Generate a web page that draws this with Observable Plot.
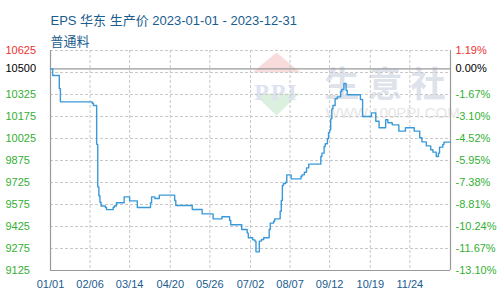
<!DOCTYPE html>
<html>
<head>
<meta charset="utf-8">
<script src="https://cdn.jsdelivr.net/npm/d3@7"></script>
<script src="https://cdn.jsdelivr.net/npm/@observablehq/plot@0.6"></script>
<style>
  html, body { margin: 0; padding: 0; background: #fff; }
</style>
</head>
<body>
<div id="chart"></div>
<script>
const titleText = "EPS 华东 生产价 2023-01-01 - 2023-12-31";
const subtitleText = "普通料";

const dates = [
  "2023-01-01","2023-01-03","2023-01-09","2023-01-10","2023-02-08","2023-02-09",
  "2023-02-12","2023-02-13","2023-02-14","2023-02-15","2023-02-16","2023-02-20",
  "2023-02-21","2023-02-27","2023-02-28","2023-03-02","2023-03-09","2023-03-14",
  "2023-03-21","2023-04-02","2023-04-03","2023-04-06","2023-04-10","2023-04-24",
  "2023-04-25","2023-05-10","2023-05-19","2023-05-29","2023-06-06","2023-06-13",
  "2023-06-14","2023-06-24","2023-06-29","2023-06-30","2023-07-04","2023-07-06",
  "2023-07-07","2023-07-10","2023-07-12","2023-07-14","2023-07-19","2023-07-20",
  "2023-07-23","2023-07-24","2023-07-29","2023-07-30","2023-07-31","2023-08-01",
  "2023-08-03","2023-08-04","2023-08-08","2023-08-17","2023-08-18","2023-08-20",
  "2023-08-22","2023-08-24","2023-09-04","2023-09-05","2023-09-07","2023-09-08",
  "2023-09-10","2023-09-11","2023-09-12","2023-09-13","2023-09-14","2023-09-15",
  "2023-09-17","2023-09-19","2023-09-22","2023-09-23","2023-09-25","2023-09-27",
  "2023-09-28","2023-10-10","2023-10-12","2023-10-20","2023-10-24","2023-10-27",
  "2023-11-02","2023-11-04","2023-11-08","2023-11-14","2023-11-20","2023-11-28",
  "2023-12-03","2023-12-05","2023-12-09","2023-12-13","2023-12-15","2023-12-18",
  "2023-12-20","2023-12-21","2023-12-24","2023-12-25","2023-12-31"
];
const prices = [
  10500,10455,10365,10275,10265,10250,
  9985,9695,9635,9590,9565,9555,
  9540,9555,9565,9587,9627,9600,
  9555,9587,9627,9616,9639,9602,
  9568,9541,9511,9477,9491,9466,
  9437,9405,9380,9348,9334,9325,
  9252,9325,9336,9348,9405,9448,
  9461,9477,9529,9602,9705,9718,
  9727,9777,9750,9768,9777,9795,
  9825,9850,9902,9925,9970,9989,
  10023,10064,10084,10159,10227,10250,
  10296,10309,10345,10359,10400,10352,
  10323,10291,10175,10200,10143,10098,
  10153,10132,10118,10075,10098,10075,
  10030,10002,9975,9948,9932,9902,
  9925,9966,9984,10000,10000
];

const xDomain = ["2023-01-01", "2023-12-31"];
const xTickDates = ["2023-01-01","2023-02-06","2023-03-14","2023-04-20","2023-05-26",
                    "2023-07-02","2023-08-07","2023-09-12","2023-10-19","2023-11-24"];
const xTickLabels = ["01/01","02/06","03/14","04/20","05/26","07/02","08/07","09/12","10/19","11/24"];

const yDomain = [9125, 10625];
const baseValue = 10500;
const yTickValues = [10625, 10500, 10325, 10175, 10025, 9875, 9725, 9575, 9425, 9275, 9125];
const yPctLabels = ["1.19%","0.00%","-1.67%","-3.10%","-4.52%","-5.95%","-7.38%","-8.81%","-10.24%","-11.67%","-13.10%"];
const yGridValues = [10625, 10475, 10325, 10175, 10025, 9875, 9725, 9575, 9425, 9275];

const watermarkBig = "生意社";
const watermarkUrl = "WWW.100PPI.COM";
const watermarkLogo = "PPI";

const parse = d3.utcParse("%Y-%m-%d");
const data = dates.map((d, i) => ({date: parse(d), price: prices[i]}));
const ticks = xTickDates.map((d, i) => ({date: parse(d), label: xTickLabels[i]}));
const yTicks = yTickValues.map((v, i) => ({v, pct: yPctLabels[i],
  color: v > baseValue ? "#ee3030" : v === baseValue ? "#000000" : "#33b033"}));

const upTri = {draw(ctx) { ctx.moveTo(0, -10); ctx.lineTo(24, 10); ctx.lineTo(-24, 10); ctx.closePath(); }};
const downTri = {draw(ctx) { ctx.moveTo(-23, -11); ctx.lineTo(23, -11); ctx.lineTo(0, 11); ctx.closePath(); }};

const titleColor = "#1a5c8e";
const gridStyle = {stroke: "#c8c8c8", strokeDasharray: "3,2", strokeWidth: 1};

const chart = Plot.plot({
  width: 500,
  height: 300,
  marginLeft: 50,
  marginRight: 50,
  marginTop: 50,
  marginBottom: 30,
  style: {fontFamily: "'Liberation Sans', Arial, 'Noto Sans CJK SC', sans-serif", fontSize: "11px", background: "#fff"},
  x: {type: "utc", domain: xDomain.map(parse), axis: null},
  y: {domain: yDomain, axis: null},
  color: {type: "identity"},
  marks: [
    // watermark
    Plot.dot([0], {frameAnchor: "top-left", dx: 226, dy: 12, symbol: upTri, r: 1, fill: "#f8dcdc", stroke: "none"}),
    Plot.dot([0], {frameAnchor: "top-left", dx: 226, dy: 54, symbol: downTri, r: 1, fill: "#dcf0e0", stroke: "none"}),
    Plot.text([watermarkLogo], {text: d => d, frameAnchor: "top-left", dx: 226, dy: 32, textAnchor: "middle",
      fontSize: 24, fontWeight: "bold", fontFamily: "'Liberation Serif', serif", fill: "#dde3f0"}),
    Plot.text([watermarkBig], {text: d => d, frameAnchor: "top-left", dx: 274, dy: 22, textAnchor: "start",
      fontSize: 35, fontWeight: "bold", fontFamily: "'Noto Sans CJK SC', sans-serif", fill: "#dde2eb"}),
    Plot.text([watermarkUrl], {text: d => d, frameAnchor: "top-left", dx: 275, dy: 57, textAnchor: "start",
      fontSize: 15, fill: "#e6e6e6"}),
    // grid
    Plot.ruleY(yGridValues, gridStyle),
    Plot.ruleX(ticks.slice(1), {x: "date", ...gridStyle}),
    // frame
    Plot.ruleY([baseValue], {stroke: "#999", strokeWidth: 1.2}),
    Plot.ruleY([yDomain[0]], {stroke: "#999", strokeWidth: 1.2}),
    Plot.ruleX(xDomain.map(parse), {stroke: "#999", strokeWidth: 1.2}),
    // line
    Plot.line(data, {x: "date", y: "price", curve: "step-after", stroke: "#3a9ad9", strokeWidth: 1.4}),
    // y labels left
    Plot.text(yTicks, {y: "v", text: d => String(d.v), frameAnchor: "left", textAnchor: "start", dx: -45,
      fill: d => d.color, fontSize: 11}),
    // y labels right
    Plot.text(yTicks, {y: "v", text: "pct", frameAnchor: "right", textAnchor: "start", dx: 5,
      fill: d => d.color, fontSize: 11}),
    // x labels
    Plot.text(ticks, {x: "date", text: "label", frameAnchor: "bottom", dy: 17, fill: titleColor, fontSize: 11}),
    // title
    Plot.text([titleText], {text: d => d, frameAnchor: "top-left", dx: 0, dy: -35, textAnchor: "start",
      fill: titleColor, fontSize: 13}),
    Plot.text([subtitleText], {text: d => d, frameAnchor: "top-left", dx: 0, dy: -14, textAnchor: "start",
      fill: titleColor, fontSize: 13})
  ]
});
d3.select(chart).selectAll("text")
  .filter(function() { return this.textContent === watermarkBig; })
  .attr("letter-spacing", 8);
d3.select(chart).selectAll("text")
  .filter(function() { return this.textContent === watermarkLogo; })
  .attr("letter-spacing", 2);
document.getElementById("chart").appendChild(chart);
</script>
</body>
</html>
